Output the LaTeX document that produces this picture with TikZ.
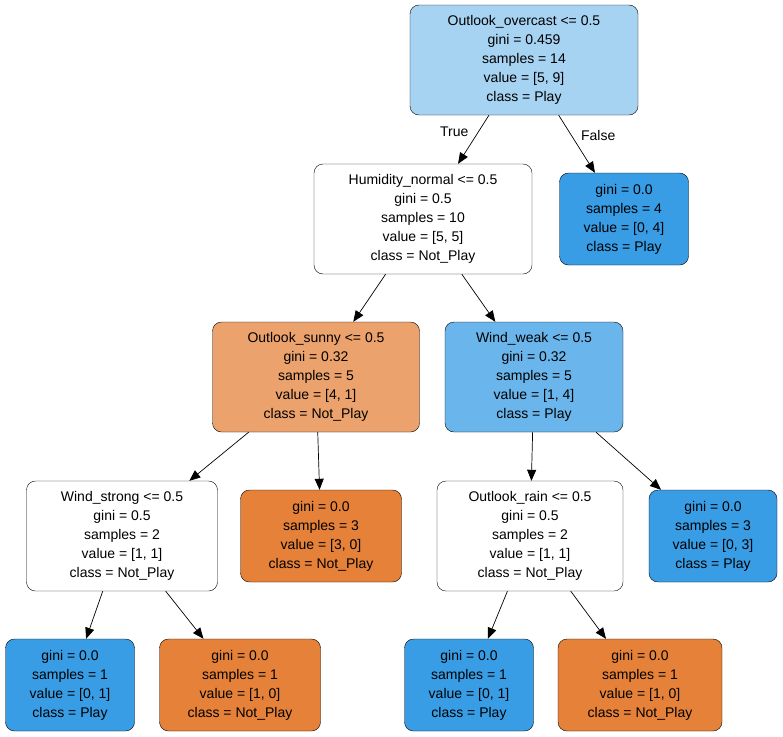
\documentclass[tikz,border=0pt]{standalone}
\usepackage{fontspec}
\setmainfont{Liberation Sans}
\usetikzlibrary{arrows.meta}
\definecolor{leafblue}{HTML}{399DE5}
\definecolor{leaforange}{HTML}{E58139}
\definecolor{rootblue}{HTML}{A7D3F3}
\definecolor{midblue}{HTML}{6AB6EC}
\definecolor{midorange}{HTML}{ECA26C}
\tikzstyle{squared} = [rectangle, rounded corners=9pt, minimum height=92pt, align=center, draw=black, font=\fontsize{14}{19}\selectfont, inner sep=2pt]
\tikzstyle{split} = [squared, minimum height=110pt]
\tikzstyle{edge} = [-{Triangle[width=9pt,length=11pt]}, line width=0.7pt]

\begin{document}
\begin{tikzpicture}[x=1pt,y=-1pt]
			\useasboundingbox (0,0) rectangle (783,736);
			\node (overcast) [split, fill=rootblue, minimum width=228pt] at (524,60) {Outlook\_overcast <= 0.5\\gini = 0.459\\samples = 14\\value = [5, 9]\\class = Play};
			
			\node (humidity) [split, fill=white, minimum width=218pt] at (423,219) {Humidity\_normal <= 0.5\\gini = 0.5\\samples = 10\\value = [5, 5]\\class = Not\_Play};
			\node (leafa) [squared, fill=leafblue, minimum width=129pt] at (624,219) {gini = 0.0\\samples = 4\\value = [0, 4]\\class = Play};
			
			\node (sunny) [split, fill=midorange, minimum width=207pt] at (316,377) {Outlook\_sunny <= 0.5\\gini = 0.32\\samples = 5\\value = [4, 1]\\class = Not\_Play};
			\node (weak) [split, fill=midblue, minimum width=178pt] at (534,377) {Wind\_weak <= 0.5\\gini = 0.32\\samples = 5\\value = [1, 4]\\class = Play};
			
			\node (strong) [split, fill=white, minimum width=191pt] at (122,536) {Wind\_strong <= 0.5\\gini = 0.5\\samples = 2\\value = [1, 1]\\class = Not\_Play};
			\node (leafb) [squared, fill=leaforange, minimum width=161pt] at (321,536) {gini = 0.0\\samples = 3\\value = [3, 0]\\class = Not\_Play};
			\node (rain) [split, fill=white, minimum width=186pt] at (530,536) {Outlook\_rain <= 0.5\\gini = 0.5\\samples = 2\\value = [1, 1]\\class = Not\_Play};
			\node (leafc) [squared, fill=leafblue, minimum width=128pt] at (713,536) {gini = 0.0\\samples = 3\\value = [0, 3]\\class = Play};
			
			\node (leafd) [squared, fill=leafblue, minimum width=129pt] at (70,685) {gini = 0.0\\samples = 1\\value = [0, 1]\\class = Play};
			\node (leafe) [squared, fill=leaforange, minimum width=161pt] at (240,685) {gini = 0.0\\samples = 1\\value = [1, 0]\\class = Not\_Play};
			\node (leaff) [squared, fill=leafblue, minimum width=129pt] at (469,685) {gini = 0.0\\samples = 1\\value = [0, 1]\\class = Play};
			\node (leafg) [squared, fill=leaforange, minimum width=164pt] at (640,685) {gini = 0.0\\samples = 1\\value = [1, 0]\\class = Not\_Play};
			
			\draw[edge] (overcast) -- node[pos=0.35, left=6pt, font=\fontsize{14}{16}\selectfont] {True} (humidity);
			\draw[edge] (overcast) -- node[pos=0.35, right=6pt, font=\fontsize{14}{16}\selectfont] {False} (leafa);
			\draw[edge] (humidity) -- (sunny);
			\draw[edge] (humidity) -- (weak);
			\draw[edge] (sunny) -- (strong);
			\draw[edge] (sunny) -- (leafb);
			\draw[edge] (weak) -- (rain);
			\draw[edge] (weak) -- (leafc);
			\draw[edge] (strong) -- (leafd);
			\draw[edge] (strong) -- (leafe);
			\draw[edge] (rain) -- (leaff);
			\draw[edge] (rain) -- (leafg);
			
			\end{tikzpicture}
\end{document}
